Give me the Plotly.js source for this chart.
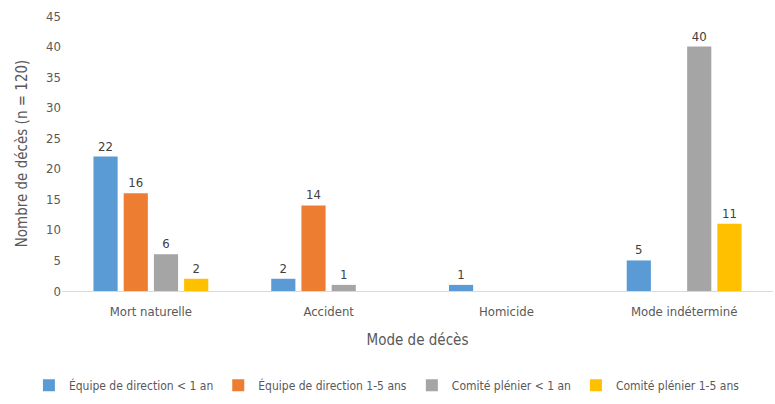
<!DOCTYPE html>
<html>
<head>
<meta charset="utf-8">
<script src="https://cdn.plot.ly/plotly-3.0.1.min.js"></script>
<style>body{margin:0;background:#fff}#chart{width:775px;height:404px}</style>
</head>
<body>
<div id="chart"></div>
<script>
var categories = ['Mort naturelle', 'Accident', 'Homicide', 'Mode indéterminé'];
var seriesNames = ['Équipe de direction < 1 an', 'Équipe de direction 1-5 ans', 'Comité plénier < 1 an', 'Comité plénier 1-5 ans'];
var directionMoins1 = [22, 2, 1, 5];
var direction1a5 = [16, 14, 0, 0];
var plenierMoins1 = [6, 1, 0, 40];
var plenier1a5 = [2, 0, 0, 11];
var colors = ['#5B9BD5', '#ED7D31', '#A5A5A5', '#FFC000'];

var fontFam = '"DejaVu Sans Condensed", "Liberation Sans Narrow", Arial, sans-serif';

var allSeries = [directionMoins1, direction1a5, plenierMoins1, plenier1a5];
var data = [];
for (let i = 0; i < allSeries.length; i++) {
    data.push({
        x: categories,
        y: allSeries[i],
        name: seriesNames[i],
        type: 'bar',
        marker: {color: colors[i]},
        text: allSeries[i].map(v => v === 0 ? '' : String(v)),
        textposition: 'outside',
        cliponaxis: false,
        textfont: {size: 13, color: '#404040', family: fontFam},
        hoverinfo: 'none'
    });
}

var layout = {
    width: 775,
    height: 404,
    margin: {l: 62, r: 2, t: 16, b: 113},
    barmode: 'group',
    bargap: 0.32,
    bargroupgap: 0.2,
    font: {family: fontFam, color: '#595959', size: 13},
    showlegend: true,
    legend: {
        orientation: 'h',
        x: 0.457, xanchor: 'center',
        y: -0.29, yanchor: 'top',
        font: {size: 12, color: '#595959'},
        itemwidth: 30,
        tracegroupgap: 0,
        traceorder: 'normal'
    },
    xaxis: {
        title: {text: 'Mode de décès', font: {size: 15, color: '#595959'}, standoff: 16},
        showline: true,
        linecolor: '#D9D9D9',
        linewidth: 1,
        ticks: '',
        ticklabelstandoff: 8,
        tickfont: {size: 13}
    },
    yaxis: {
        title: {text: 'Nombre de décès (n = 120)', font: {size: 15, color: '#595959'}, standoff: 14},
        range: [0, 45],
        dtick: 5,
        showgrid: false,
        zeroline: false,
        showline: false,
        ticks: '',
        tickfont: {size: 13}
    },
    plot_bgcolor: '#fff',
    paper_bgcolor: '#fff'
};

Plotly.newPlot('chart', data, layout, {staticPlot: true});
</script>
</body>
</html>
